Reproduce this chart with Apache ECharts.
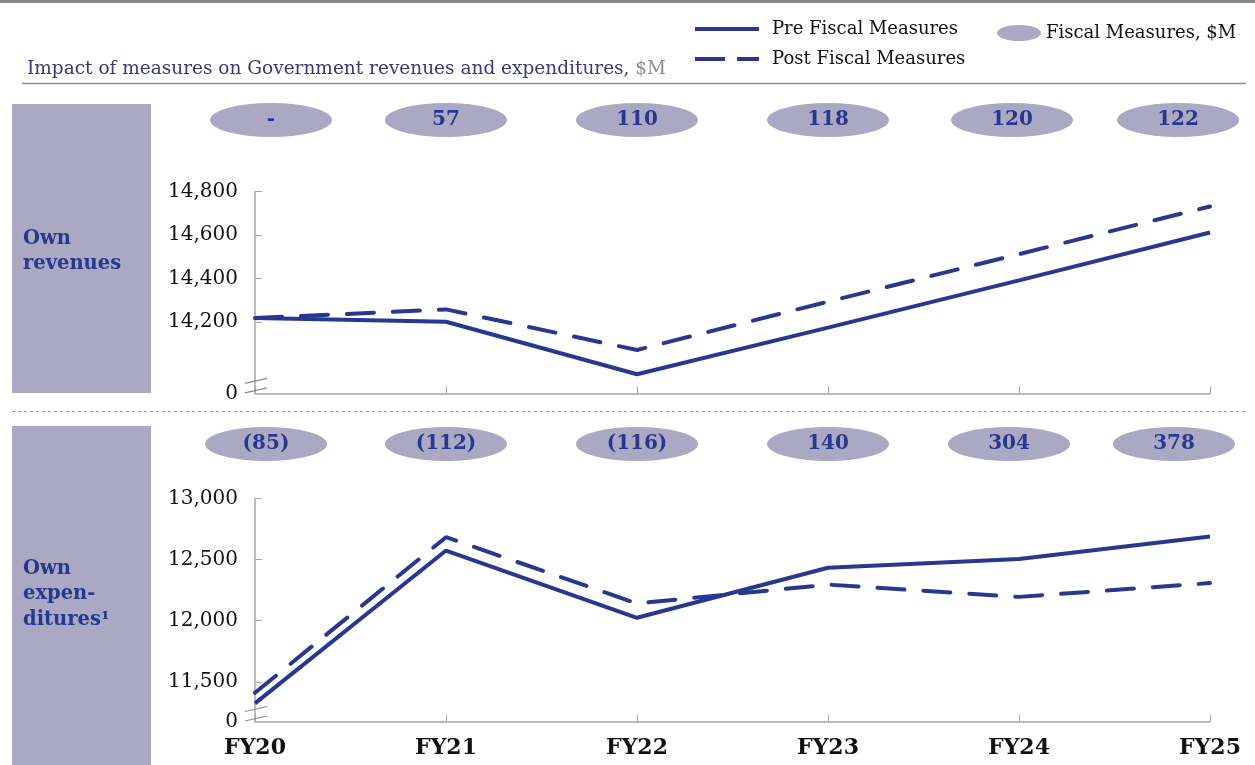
<!DOCTYPE html>
<html>
<head>
<meta charset="utf-8">
<script src="https://cdn.jsdelivr.net/npm/echarts@6/dist/echarts.min.js"></script>
<style>html,body{margin:0;padding:0;background:#fff}#chart{width:1255px;height:765px}</style>
</head>
<body>
<div id="chart"></div>
<script>
const categories = ['FY20', 'FY21', 'FY22', 'FY23', 'FY24', 'FY25'];
const revenuePre = [14217, 14200, 13958, 14173, 14391, 14612];
const revenuePost = [14217, 14257, 14070, 14293, 14512, 14732];
const expenditurePre = [11323, 12573, 12023, 12432, 12503, 12687];
const expenditurePost = [11410, 12682, 12140, 12294, 12194, 12307];
const revenueMeasures = ['-', '57', '110', '118', '120', '122'];
const expenditureMeasures = ['(85)', '(112)', '(116)', '140', '304', '378'];
const revenueTicks = [14200, 14400, 14600, 14800];
const expenditureTicks = [11500, 12000, 12500, 13000];
const revenueAxisMin = 13870, revenueAxisMax = 14800;
const expenditureAxisMin = 11175, expenditureAxisMax = 13000;

const FONT = 'DejaVu Serif';
const NAVY = '#283891';
const LAV = '#aaa8c3';
const AXIS = '#a6a6a6';

const chart = echarts.init(document.getElementById('chart'), null, {renderer: 'canvas'});

function fmt(min) {
  return v => (v === min ? '0' : v.toLocaleString('en-US'));
}
function yAxisFor(gridIndex, min, max, ticks) {
  return {
    type: 'value', gridIndex, min, max,
    splitLine: {show: false},
    axisLine: {show: true, lineStyle: {color: AXIS, width: 1.5}},
    axisTick: {show: true, inside: true, length: 7, lineStyle: {color: AXIS}, customValues: ticks},
    axisLabel: {customValues: [min].concat(ticks), formatter: fmt(min), color: '#111', fontFamily: FONT, fontSize: 20, margin: 17, padding: [4, 0, 0, 0]}
  };
}
function xAxisFor(gridIndex, showLabels) {
  return {
    type: 'category', gridIndex, data: categories, boundaryGap: false,
    axisLine: {show: true, lineStyle: {color: AXIS, width: 1.5}},
    axisTick: {show: true, inside: true, length: 7, alignWithLabel: true, lineStyle: {color: AXIS}},
    axisLabel: {show: showLabels, color: '#111', fontFamily: FONT, fontWeight: 'bold', fontSize: 22, margin: 16}
  };
}
function bubbleAxis(gridIndex) {
  return {type: 'category', gridIndex, data: categories, boundaryGap: false, show: false};
}
function bubbleY(gridIndex) {
  return {type: 'value', gridIndex, min: 0, max: 1, show: false};
}
function bubbles(measures, offsets, xi, yi) {
  return {
    type: 'scatter', name: 'Fiscal Measures, $M', xAxisIndex: xi, yAxisIndex: yi,
    symbol: 'circle', symbolSize: [122, 34], symbolKeepAspect: false,
    itemStyle: {color: LAV, opacity: 1},
    silent: true,
    data: measures.map((m, i) => ({
      name: m, value: [i, 0.5],
      symbolOffset: [offsets[i], 0]
    })),
    label: {show: true, position: 'inside', formatter: p => p.name, color: NAVY, fontFamily: FONT, fontWeight: 'bold', fontSize: 20, padding: [3, 0, 0, 0]}
  };
}
function line(name, data, xi, yi, dashed) {
  return {
    type: 'line', name, data, xAxisIndex: xi, yAxisIndex: yi,
    symbol: 'none', silent: true,
    lineStyle: {color: NAVY, width: 4, type: dashed ? [27, 19] : 'solid', cap: dashed ? 'round' : 'butt'},
    itemStyle: {color: NAVY}
  };
}

const legendText = {fontFamily: FONT, fontSize: 18, color: '#111', padding: [0, 0, 0, 8]};
const option = {
  animation: false,
  title: {
    left: 27, top: 60, padding: 0,
    text: '{a|Impact of measures on Government revenues and expenditures, }{b|$M}',
    textStyle: {fontWeight: 'normal', rich: {
      a: {fontFamily: FONT, fontSize: 18.5, fontWeight: 'normal', color: '#3b3872'},
      b: {fontFamily: FONT, fontSize: 18.5, fontWeight: 'normal', color: '#8e8e8e'}
    }}
  },
  legend: [{
    left: 695, top: 20, padding: 0, orient: 'vertical', itemGap: 12, itemWidth: 64, itemHeight: 20,
    data: [
      {name: 'Pre Fiscal Measures', icon: 'path://M0,0 L64,0 L64,4 L0,4 Z'},
      {name: 'Post Fiscal Measures', icon: 'path://M0,0 L30,0 L30,4 L0,4 Z M42,0 L64,0 L64,4 L42,4 Z'}
    ],
    itemStyle: {color: NAVY, borderWidth: 0},
    textStyle: legendText, selectedMode: false
  }, {
    left: 997, top: 24, padding: 0, itemWidth: 44, itemHeight: 16,
    data: [{name: 'Fiscal Measures, $M', icon: 'path://M0,8 A22,8 0 1,1 44,8 A22,8 0 1,1 0,8 Z'}],
    itemStyle: {color: LAV},
    textStyle: {fontFamily: FONT, fontSize: 18, color: '#111', padding: [0, 0, 0, 0]}, selectedMode: false
  }],
  grid: [
    {left: 255, right: 45, top: 191.7, bottom: 765 - 393.3},
    {left: 255, right: 45, top: 498.3, bottom: 765 - 721.5},
    {left: 255, right: 45, top: 103, height: 34},
    {left: 255, right: 45, top: 427, height: 34}
  ],
  xAxis: [xAxisFor(0, false), xAxisFor(1, true), bubbleAxis(2), bubbleAxis(3)],
  yAxis: [
    yAxisFor(0, revenueAxisMin, revenueAxisMax, revenueTicks),
    yAxisFor(1, expenditureAxisMin, expenditureAxisMax, expenditureTicks),
    bubbleY(2), bubbleY(3)
  ],
  series: [
    line('Pre Fiscal Measures', revenuePre, 0, 0, false),
    line('Post Fiscal Measures', revenuePost, 0, 0, true),
    line('Pre Fiscal Measures', expenditurePre, 1, 1, false),
    line('Post Fiscal Measures', expenditurePost, 1, 1, true),
    bubbles(revenueMeasures, [16, 0, 0, 0, -7, -32], 2, 2),
    bubbles(expenditureMeasures, [11, 0, 0, 0, -10, -36], 3, 3)
  ]
};
chart.setOption(option);

function breakMarks(gridIndex, min) {
  const p = chart.convertToPixel({xAxisIndex: gridIndex, yAxisIndex: gridIndex}, [0, min]);
  const x0 = p[0], y0 = p[1];
  const st = {stroke: '#8c8c8c', lineWidth: 1.2};
  return [
    {type: 'line', shape: {x1: x0 - 10, y1: y0 - 0.5, x2: x0 + 12, y2: y0 - 5.5}, style: st, z: 100},
    {type: 'line', shape: {x1: x0 - 10, y1: y0 - 10, x2: x0 + 12, y2: y0 - 15}, style: st, z: 100}
  ];
}

const boxFont = 'bold 19.5px "' + FONT + '"';
const graphics = [
  {type: 'rect', shape: {x: 0, y: 0, width: 1255, height: 3}, style: {fill: '#8a8a8a'}},
  {type: 'line', shape: {x1: 22, y1: 83.5, x2: 1246, y2: 83.5}, style: {stroke: '#8f8f8f', lineWidth: 1.5}},
  {type: 'line', shape: {x1: 12, y1: 411.5, x2: 1246, y2: 411.5}, style: {stroke: '#9a9a9a', lineWidth: 1, lineDash: [3, 3]}},
  {type: 'rect', shape: {x: 12, y: 104, width: 139, height: 289}, style: {fill: LAV}},
  {type: 'rect', shape: {x: 12, y: 426, width: 139, height: 339}, style: {fill: LAV}},
  {type: 'text', left: 23, top: 226, style: {text: 'Own\nrevenues', fill: NAVY, font: boxFont, lineHeight: 25}},
  {type: 'text', left: 23, top: 556, style: {text: 'Own\nexpen-\nditures¹', fill: NAVY, font: boxFont, lineHeight: 25.5}}
].concat(breakMarks(0, revenueAxisMin), breakMarks(1, expenditureAxisMin));

chart.setOption({graphic: graphics});
</script>
</body>
</html>
